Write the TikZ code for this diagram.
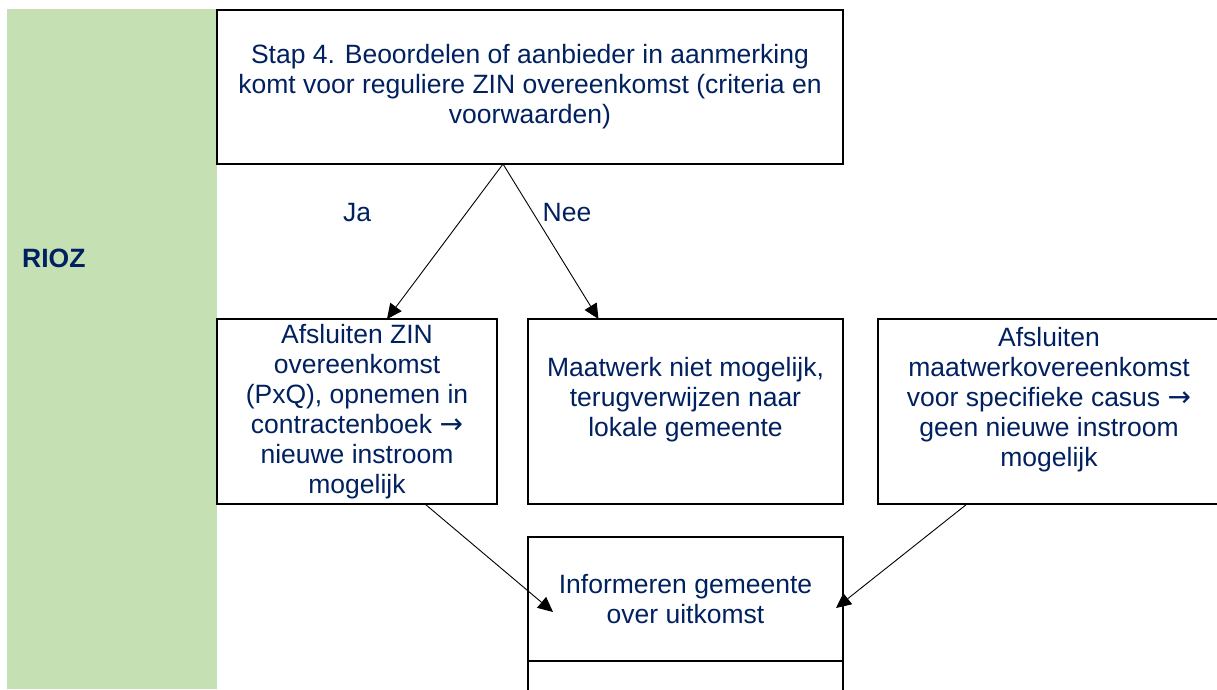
\documentclass[tikz,border=0pt]{standalone}
\usepackage{fontspec}
\setmainfont{Liberation Sans}
\newfontfamily\arrowfont{DejaVu Sans}
\usetikzlibrary{positioning,arrows.meta}

\definecolor{riozgreen}{HTML}{C5E0B3}
\definecolor{navytext}{HTML}{002060}

% arrow sign inside the box texts
\newcommand{\thenarrow}{{\arrowfont\fontsize{28}{30}\selectfont →}}

\begin{document}
\begin{tikzpicture}[x=1pt, y={(0pt,-1pt)},
  box/.style={rectangle, draw, line width=2pt, outer sep=0pt, inner sep=0pt, align=center, text=navytext, font=\fontsize{26.5}{30}\selectfont},
  flow/.style={-{Triangle[length=15pt, width=14pt]}, line width=0.9pt},
  answer/.style={inner sep=0pt, text=navytext, font=\fontsize{26.5}{30}\selectfont}]

\useasboundingbox (0,0) rectangle (1217,689);

% Green band with the RIOZ lane
\node (band) [rectangle, draw=none, fill=riozgreen, minimum width=210pt, minimum height=680pt, anchor=north west] at (7,9) {};
\node (rioz) [answer, anchor=west, font=\fontsize{26.5}{30}\selectfont\bfseries] at (22,258) {RIOZ};

% Step 4 assessment
\node (assess) [box, minimum width=626pt, minimum height=154pt, anchor=north west] at (217,10) {Stap 4. Beoordelen of aanbieder in aanmerking\\komt voor reguliere ZIN overeenkomst (criteria en\\voorwaarden)};

% Yes: regular ZIN contract
\node (contract) [box, minimum width=280pt, minimum height=185pt, below=155pt of assess.south west, anchor=north west] {Afsluiten ZIN\\overeenkomst\\(PxQ), opnemen in\\contractenboek \thenarrow\\nieuwe instroom\\mogelijk};

% No: refer back to the municipality
\node (refer) [box, minimum width=315pt, minimum height=185pt, right=31pt of contract.north east, anchor=north west] {Maatwerk niet mogelijk,\\terugverwijzen naar\\lokale gemeente\\\mbox{}};

% Custom contract for one case
\node (custom) [box, minimum width=342pt, minimum height=185pt, right=35pt of refer.north east, anchor=north west] {Afsluiten\\maatwerkovereenkomst\\voor specifieke casus \thenarrow\\geen nieuwe instroom\\mogelijk\\\mbox{}};

% Inform the municipality
\node (inform) [box, minimum width=315pt, minimum height=124pt, below=33pt of refer.south west, anchor=north west] {Informeren gemeente\\over uitkomst};

% Next box (cut off at the bottom)
\node (next) [box, minimum width=315pt, minimum height=60pt, below=0pt of inform.south west, anchor=north west] {};

% Answers
\node (yes) [answer] at (357,213) {Ja};
\node (no) [answer] at (567,213) {Nee};

% Arrows
\draw[flow] ([xshift=-27pt]assess.south) -- ([xshift=30pt]contract.north);
\draw[flow] ([xshift=-27pt]assess.south) -- ([xshift=-87pt]refer.north);
\draw[flow] ([xshift=68pt]contract.south) -- ([xshift=25pt, yshift=-13pt]inform.west);
\draw[flow] ([xshift=-82pt]custom.south) -- ([xshift=-7pt, yshift=-9pt]inform.east);

\end{tikzpicture}
\end{document}
